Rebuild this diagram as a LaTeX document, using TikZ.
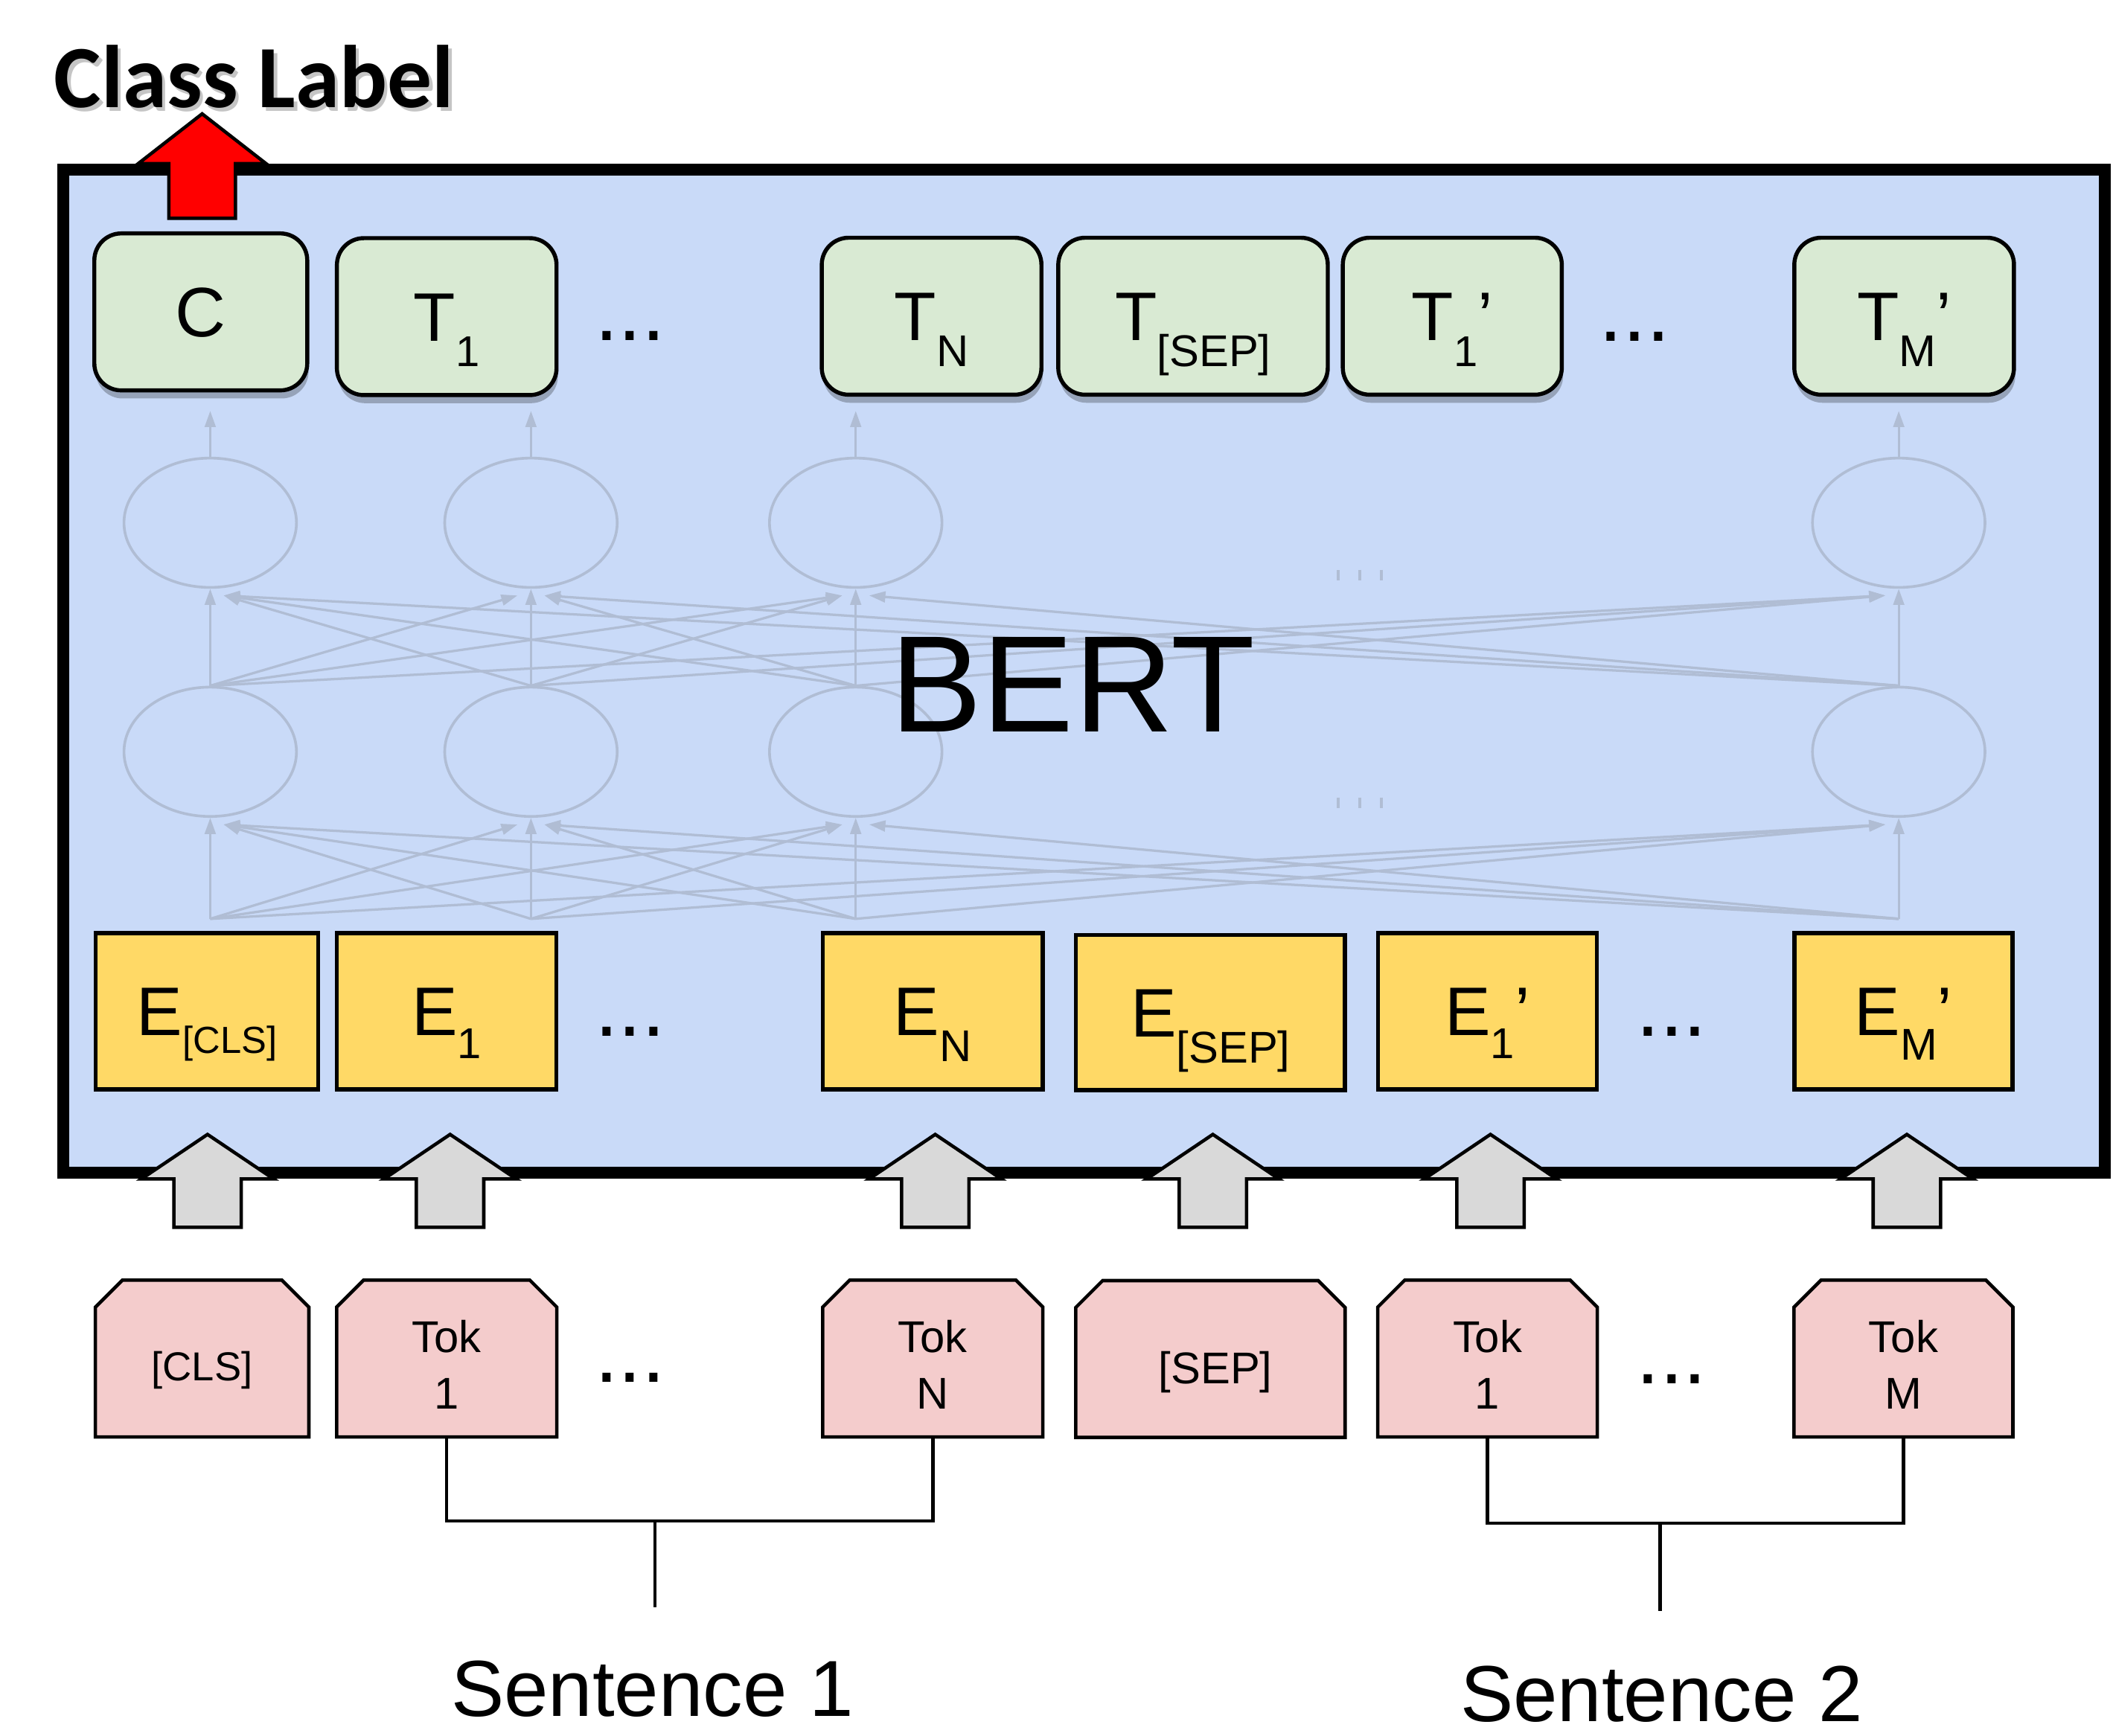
\documentclass[tikz,border=0pt]{standalone}
\usepackage{fontspec}
\setmainfont{Liberation Sans}
\newfontfamily\clfont{Carlito}
\usetikzlibrary{shapes.geometric,shadows,arrows.meta,calc}
\definecolor{bertblue}{HTML}{C9DAF8}
\definecolor{tgreen}{HTML}{D9EAD3}
\definecolor{eyellow}{HTML}{FFD966}
\definecolor{tpink}{HTML}{F4CCCC}
\definecolor{agray}{HTML}{D9D9D9}
\definecolor{netgray}{RGB}{176,189,212}
\newcommand{\fs}[1]{\fontsize{#1pt}{#1pt}\selectfont}
\newcommand{\msub}[3]{\raisebox{-#1pt}{\fs{#2}#3}}
\newcommand{\tokpoly}[1]{\path[tokshape] (#1.south west) -- ([yshift=-20pt]#1.north west) -- ([xshift=20pt]#1.north west) -- ([xshift=-20pt]#1.north east) -- ([yshift=-20pt]#1.north east) -- (#1.south east) -- cycle;}
\begin{document}
\begin{tikzpicture}[x=1pt,y=-1pt,
  bertframe/.style={draw=black,fill=bertblue,line width=8.5pt,minimum width=1515pt,minimum height=744.5pt,inner sep=0pt},
  tbox/.style={draw=black,fill=tgreen,line width=3pt,rounded corners=20pt,minimum height=116.5pt,inner sep=0pt,text height=36.5pt,text depth=0pt,font=\fs{51},drop shadow={shadow xshift=1pt,shadow yshift=-6pt,opacity=0.25,fill=black}},
  ebox/.style={draw=black,fill=eyellow,line width=3pt,minimum height=116pt,inner sep=0pt,text height=36.5pt,text depth=0pt,font=\fs{51}},
  tokbox/.style={minimum height=116pt,inner sep=0pt},
  tokshape/.style={draw=black,fill=tpink,line width=2.5pt,line join=miter},
  toktxt/.style={anchor=base,inner sep=0pt,font=\fs{33}},
  dotstxt/.style={anchor=base,inner sep=0pt,font=\fs{63}},
  neuron/.style={ellipse,draw=netgray,line width=2pt,minimum width=128pt,minimum height=96pt,inner sep=0pt},
  netline/.style={draw=netgray,line width=1.8pt,-{Triangle[length=12pt,width=8pt]}},
  blockarrow/.style={draw=black,fill=agray,line width=2.5pt,line join=miter},
  graybarrow/.pic={\path[blockarrow] (0,0) -- (49,33) -- (25,33) -- (25,69) -- (-25,69) -- (-25,33) -- (-49,33) -- cycle;},
  bracket/.style={draw=black,line width=2.5pt}
]
\useasboundingbox (0,0) rectangle (1568,1288);

% BERT frame
\node[bertframe] (bert) at (804.5,498.25) {};

% faded network
\foreach \i/\x in {1/156,2/394,3/635,4/1409}{
  \node[neuron] (u\i) at (\x,388) {};
  \node[neuron] (l\i) at (\x,558) {};
  \coordinate (s\i) at (\x,682);
  \coordinate (o\i) at (\x,305);
}
\foreach \i in {1,...,4}{
  \draw[netline] (s\i) -- (l\i.south);
  \draw[netline] (l\i.north) -- (u\i.south);
  \draw[netline] (u\i.north) -- (o\i);
  \foreach \j in {1,...,4}{
    \ifnum\i=\j\relax\else
      \pgfmathsetmacro\off{\i<\j ? -10 : 10}
      \draw[netline] (s\i) -- ([xshift=\off pt,yshift=-5pt]l\j.south);
      \draw[netline] (l\i.north) -- ([xshift=\off pt,yshift=-5pt]u\j.south);
    \fi
  }
}
\foreach \yy in {427,596}{
  \foreach \xx in {993,1009,1025}{
    \draw[netgray,line width=2.5pt] (\xx,\yy-4) -- (\xx,\yy+4);
  }
}

\node[anchor=base,inner sep=0pt,font=\fs{102}] (berttxt) at (796,543) {BERT};

% output boxes
\node[tbox,minimum width=158pt] (tc) at (149,231.5) {\fs{52}C};
\node[tbox,minimum width=163pt] (t1) at (331.5,235) {T\msub{19}{32}{1}};
\node[tbox,minimum width=163pt] (tn) at (691.3,234.7) {T\msub{19}{33}{N}};
\node[tbox,minimum width=200pt] (tsep) at (885.3,234.7) {T\msub{19}{33}{[SEP]}};
\node[tbox,minimum width=162.5pt] (t1p) at (1077.7,234.7) {T\msub{19}{32}{1}’};
\node[tbox,minimum width=163pt] (tm) at (1413,234.7) {T\msub{19}{33}{M}’};
\node[dotstxt] (dt1) at (467.6,252.5) {...};
\node[dotstxt] (dt2) at (1213,253) {...};

% embedding boxes
\node[ebox,minimum width=165pt] (ecls) at (153.5,750.5) {E\msub{13}{28}{[CLS]}};
\node[ebox,minimum width=163pt] (e1) at (331.5,750.5) {E\msub{17}{32}{1}};
\node[ebox,minimum width=163pt] (en) at (692.2,750.5) {E\msub{19}{33}{N}};
\node[ebox,minimum width=199.5pt,minimum height=115pt] (esep) at (898.2,751.5) {E\msub{19}{33}{[SEP]}};
\node[ebox,minimum width=162.5pt] (e1p) at (1103.8,750.5) {E\msub{17}{32}{1}’};
\node[ebox,minimum width=162pt] (em) at (1412.5,750.5) {E\msub{18}{33}{M}’};
\node[dotstxt] (de1) at (467.6,769) {...};
\node[dotstxt] (de2) at (1240.5,769) {...};

% class label arrow
\path[draw=black,fill=red,line width=2.5pt,line join=miter] (150,84.5) -- (197.5,121.5) -- (174.7,121.5) -- (174.7,162) -- (125.3,162) -- (125.3,121.5) -- (102.5,121.5) -- cycle;
\node[anchor=base west,inner sep=0pt,font=\clfont\bfseries\fs{66},text=black!45,opacity=0.5] (clsshadow) at (42.5,82.5) {Class Label};
\node[anchor=base west,inner sep=0pt,font=\clfont\bfseries\fs{66}] (clslbl) at (40,80) {Class Label};

% input arrows
\foreach \x in {154,334,694,900,1106,1415}{
  \pic at (\x,842) {graybarrow};
}

% tokens
\node[tokbox,minimum width=158pt] (tkc) at (150,1008.4) {};
\node[tokbox,minimum width=163pt] (tk1) at (331.5,1008.4) {};
\node[tokbox,minimum width=163pt] (tkn) at (692.2,1008.4) {};
\node[tokbox,minimum width=199.5pt] (tks) at (898.2,1008.7) {};
\node[tokbox,minimum width=162.5pt] (tk1p) at (1103.8,1008.4) {};
\node[tokbox,minimum width=162pt] (tkm) at (1412.5,1008.4) {};
\tokpoly{tkc}\tokpoly{tk1}\tokpoly{tkn}\tokpoly{tks}\tokpoly{tk1p}\tokpoly{tkm}
\node[toktxt,font=\fs{30}] (tkct) at (150,1025) {[CLS]};
\node[toktxt] (tk1a) at (331.5,1003.7) {Tok};
\node[toktxt] (tk1b) at (331.5,1046) {1};
\node[toktxt] (tkna) at (692.2,1003.7) {Tok};
\node[toktxt] (tknb) at (692.2,1046) {N};
\node[toktxt,font=\fs{33}] (tkst) at (902,1027) {[SEP]};
\node[toktxt] (tk1pa) at (1103.8,1003.7) {Tok};
\node[toktxt] (tk1pb) at (1103.8,1046) {1};
\node[toktxt] (tkma) at (1412.5,1003.7) {Tok};
\node[toktxt] (tkmb) at (1412.5,1046) {M};
\node[dotstxt] (dk1) at (467.6,1026) {...};
\node[dotstxt] (dk2) at (1240.5,1027) {...};

% sentence brackets
\coordinate (b1) at (486,1129);
\coordinate (b1end) at (486,1193);
\coordinate (b2) at (1232,1130.5);
\coordinate (b2end) at (1232,1196);
\draw[bracket] (tk1.south) |- (b1) -| (tkn.south);
\draw[bracket] (b1) -- (b1end);
\draw[bracket] (tk1p.south) |- (b2) -| (tkm.south);
\draw[bracket] (b2) -- (b2end);
\node[anchor=base,inner sep=0pt,font=\fs{59}] (sen1) at (484,1274) {Sentence 1};
\node[anchor=base,inner sep=0pt,font=\fs{59}] (sen2) at (1233,1278) {Sentence 2};
\end{tikzpicture}
\end{document}
